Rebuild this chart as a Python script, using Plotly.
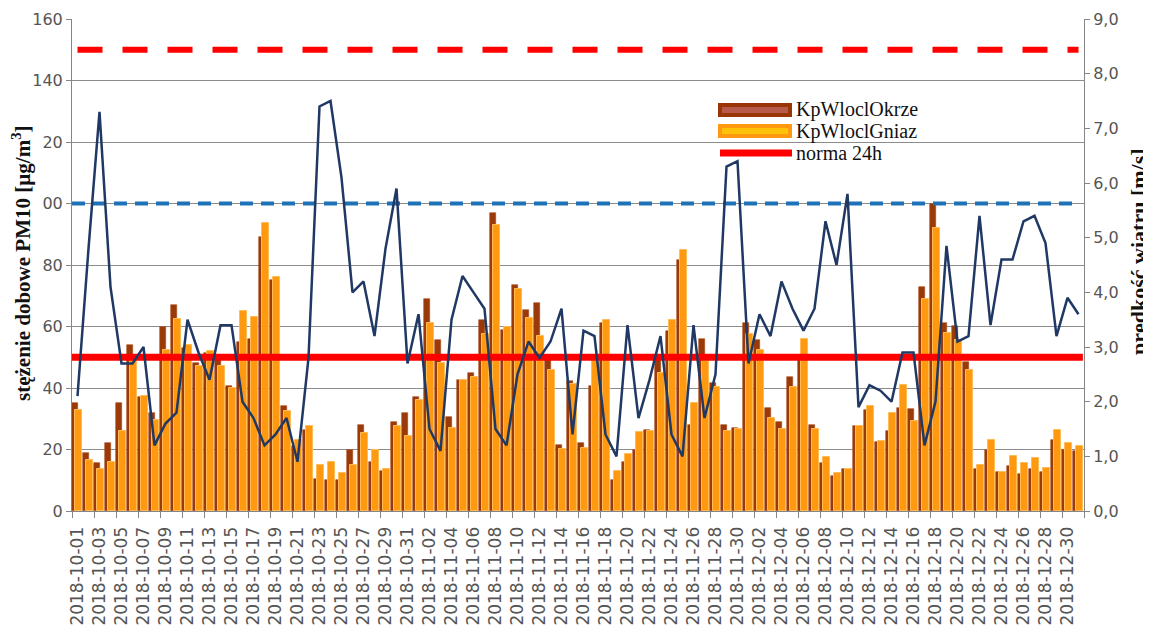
import pandas as pd
import plotly.graph_objects as go

# ---------------- data ----------------
dates = [d.strftime("%Y-%m-%d") for d in pd.date_range("2018-10-01", "2018-12-31", freq="D")]

okrze = [35, 19, 15.5, 22, 35, 54, 37, 32, 60, 67,
         53, 48, 51.5, 49, 40.5, 55, 56, 89, 75, 34,
         21, 26.5, 10.5, 10, 10, 20, 28, 16, 13, 29,
         32, 37, 69, 55.5, 30.5, 42.5, 45, 62, 97, 59,
         73.5, 65.5, 67.5, 49.5, 21.5, 42.3, 22, 40.5, 61, 10,
         16, 20, 26.5, 49, 58.5, 81.5, 28, 56, 41.5, 28,
         27, 61, 55.5, 33.5, 29, 43.5, 49, 28, 15.7, 11.5,
         13.7, 27.8, 33, 22.5, 26, 33.5, 33.2, 73, 100, 61.3,
         60.2, 48.6, 13.7, 20, 12.8, 14.6, 11.9, 13.7, 12.8, 23.2,
         20, 19.5]

gniaz = [33, 16.5, 13.5, 16, 26, 50, 37.5, 29.5, 52.5, 62.5,
         54, 47, 52, 47, 40, 65, 63, 93.5, 76, 32.5,
         23, 27.5, 15, 16, 12.5, 15, 25.5, 20, 13.5, 27.5,
         24.5, 36, 61.3, 48, 27, 42.5, 43.6, 57.5, 93, 60,
         72.3, 62.8, 56.9, 46, 20.3, 41.2, 20.6, 50, 62.2, 13,
         18.4, 25.8, 26, 44.8, 62.1, 85, 35.1, 48.8, 40.3, 26,
         26.7, 57.7, 52.5, 30.2, 26.6, 40.2, 55.8, 26.8, 17.5, 12.4,
         13.5, 27.8, 34, 22.9, 31.9, 41, 29.2, 69, 92, 57.8,
         55.7, 46, 15.1, 23.2, 12.8, 17.8, 15.7, 17.3, 14, 26.5,
         22, 21.1]

wind = [2.1, 4.8, 7.3, 4.1, 2.7, 2.7, 3.0, 1.2, 1.6, 1.8,
        3.5, 2.9, 2.4, 3.4, 3.4, 2.0, 1.7, 1.2, 1.4, 1.7,
        0.9, 2.8, 7.4, 7.5, 6.1, 4.0, 4.2, 3.2, 4.8, 5.9,
        2.7, 3.6, 1.5, 1.1, 3.5, 4.3, 4.0, 3.7, 1.5, 1.2,
        2.5, 3.1, 2.8, 3.1, 3.7, 1.4, 3.3, 3.2, 1.4, 1.0,
        3.4, 1.7, 2.4, 3.2, 1.4, 1.0, 3.4, 1.7, 2.5, 6.3,
        6.4, 2.7, 3.6, 3.2, 4.2, 3.7, 3.3, 3.7, 5.3, 4.5,
        5.8, 1.9, 2.3, 2.2, 2.0, 2.9, 2.9, 1.2, 2.0, 4.85,
        3.1, 3.2, 5.4, 3.4, 4.6, 4.6, 5.3, 5.4, 4.9, 3.2,
        3.9, 3.6]

NORMA_24H = 50
LEVEL_RED = 150
LEVEL_BLUE = 100

series_names = ["KpWloclOkrze", "KpWloclGniaz", "norma 24h"]
y_ticks_left = list(range(0, 161, 20))
y_ticks_right = list(range(0, 10))

# ---------------- geometry ----------------
# the page body adds an 8px margin; the figure is sized so the plot box
# lands at screen x 72..1084, y 19..511
PAGE = 8
W, H = 1151 - PAGE, 625 - PAGE
BOX_L, BOX_R, BOX_T, BOX_B = 72, 1084, 19, 511
ML = BOX_L - PAGE
MT = BOX_T - PAGE
MR = W - (BOX_R - PAGE)
MB = H - (BOX_B - PAGE)
PW, PH = BOX_R - BOX_L, BOX_B - BOX_T

def px2x(sx):
    return (sx - BOX_L) / PW

def py2y(sy):
    return (BOX_B - sy) / PH

idx = list(range(len(dates)))
n = len(idx)

fig = go.Figure()

fig.add_trace(go.Bar(
    x=idx, y=okrze, name=series_names[0], width=0.56, offset=-0.47,
    marker=dict(color="#9A3A08", line=dict(color="#A84818", width=0.6)),
    showlegend=False, customdata=dates,
    hovertemplate="%{customdata}<br>%{y}<extra>KpWloclOkrze</extra>"))
fig.add_trace(go.Bar(
    x=idx, y=gniaz, name=series_names[1], width=0.64, offset=-0.22,
    marker=dict(color="#FF9A10", line=dict(color="#FFBB55", width=1)),
    showlegend=False, customdata=dates,
    hovertemplate="%{customdata}<br>%{y}<extra>KpWloclGniaz</extra>"))

fig.add_trace(go.Scatter(
    x=[idx[0] - 0.5, idx[-1] + 0.4], y=[NORMA_24H, NORMA_24H], mode="lines",
    name=series_names[2], line=dict(color="#FF0000", width=7), showlegend=False))
fig.add_trace(go.Scatter(
    x=idx, y=[LEVEL_RED] * n, mode="lines",
    line=dict(color="#FF0000", width=6, dash="25px,20px"), showlegend=False,
    hoverinfo="skip"))
fig.add_trace(go.Scatter(
    x=[idx[0] - 0.5] + idx, y=[LEVEL_BLUE] * (n + 1), mode="lines",
    line=dict(color="#1F72B8", width=4, dash="13px,8px"), showlegend=False,
    hoverinfo="skip"))

fig.add_trace(go.Scatter(
    x=idx, y=wind, yaxis="y2", mode="lines", name="prędkość wiatru",
    line=dict(color="#203864", width=2.5), showlegend=False, customdata=dates,
    hovertemplate="%{customdata}<br>%{y}<extra></extra>"))

tick_font = dict(family="DejaVu Sans", size=16, color="#555555")
axis_grey = "#868686"

fig.update_layout(
    width=W, height=H,
    margin=dict(l=ML, r=MR, t=MT, b=MB, pad=0, autoexpand=False),
    paper_bgcolor="white", plot_bgcolor="white",
    barmode="overlay", bargap=0,
    separators=", ",
    showlegend=False,
    xaxis=dict(
        range=[-0.5, n - 0.5], tickmode="array", automargin=False,
        tickvals=idx[::2], ticktext=dates[::2], tickangle=-90,
        ticks="", ticklabelstandoff=8,
        tickfont=dict(family="DejaVu Sans", size=17, color="#555555"),
        showgrid=False, zeroline=False, showline=True, linecolor=axis_grey, linewidth=1,
        minor=dict(tickmode="array", tickvals=[i - 0.5 for i in idx[::2]] + [n - 0.5],
                   ticks="outside", ticklen=6, tickcolor=axis_grey, showgrid=False),
    ),
    yaxis=dict(
        range=[0, 160], tickmode="array", tickvals=y_ticks_left, automargin=False,
        showgrid=True, gridcolor="#8C8C8C", gridwidth=1, zeroline=False,
        showline=True, linecolor=axis_grey, ticks="outside", ticklen=5,
        tickcolor=axis_grey, tickfont=tick_font,
    ),
    yaxis2=dict(
        range=[0, 9], overlaying="y", side="right", tickmode="array", automargin=False,
        tickvals=y_ticks_right, tickformat=".1f", showgrid=False, zeroline=False,
        showline=True, linecolor=axis_grey, ticks="outside", ticklen=5,
        tickcolor=axis_grey, tickfont=tick_font,
    ),
)

fig.add_annotation(
    text="<b>stężenie dobowe PM10 [µg/m<sup>3</sup>]</b>", textangle=-90,
    xref="paper", yref="paper", x=px2x(22), y=py2y(264),
    xanchor="center", yanchor="middle", showarrow=False,
    font=dict(family="Liberation Serif", size=21, color="#111111"),
    bgcolor="white", borderpad=7)
fig.add_annotation(
    text="<b>prędkość wiatru [m/s]</b>", textangle=-90,
    xref="paper", yref="paper", x=px2x(1138), y=py2y(252),
    xanchor="center", yanchor="middle", showarrow=False,
    font=dict(family="Liberation Serif", size=22, color="#111111"))

# ---------------- custom legend ----------------
leg_x0, leg_x1 = 718, 792
legend_rows = [
    (series_names[0], 110, "#9A3606", "#B85A4A"),
    (series_names[1], 131, "#FF9A10", "#FFC20A"),
]
legend_font = dict(family="Liberation Serif", size=20, color="#111111")
for name, yc, outer, inner in legend_rows:
    fig.add_shape(type="rect", xref="paper", yref="paper",
                  x0=px2x(leg_x0), x1=px2x(leg_x1), y0=py2y(yc - 7), y1=py2y(yc + 7),
                  fillcolor=outer, line=dict(width=0))
    fig.add_shape(type="rect", xref="paper", yref="paper",
                  x0=px2x(leg_x0 + 4), x1=px2x(leg_x1 - 4), y0=py2y(yc - 3), y1=py2y(yc + 3),
                  fillcolor=inner, line=dict(width=0))
    fig.add_annotation(text=name, xref="paper", yref="paper", x=px2x(794), y=py2y(yc),
                       xanchor="left", yanchor="middle", showarrow=False, font=legend_font)
fig.add_shape(type="line", xref="paper", yref="paper",
              x0=px2x(leg_x0 + 2), x1=px2x(leg_x1), y0=py2y(153), y1=py2y(153),
              line=dict(color="#FF0000", width=7))
fig.add_annotation(text=series_names[2], xref="paper", yref="paper", x=px2x(794), y=py2y(153),
                   xanchor="left", yanchor="middle", showarrow=False, font=legend_font)

fig.write_html("out.html")
